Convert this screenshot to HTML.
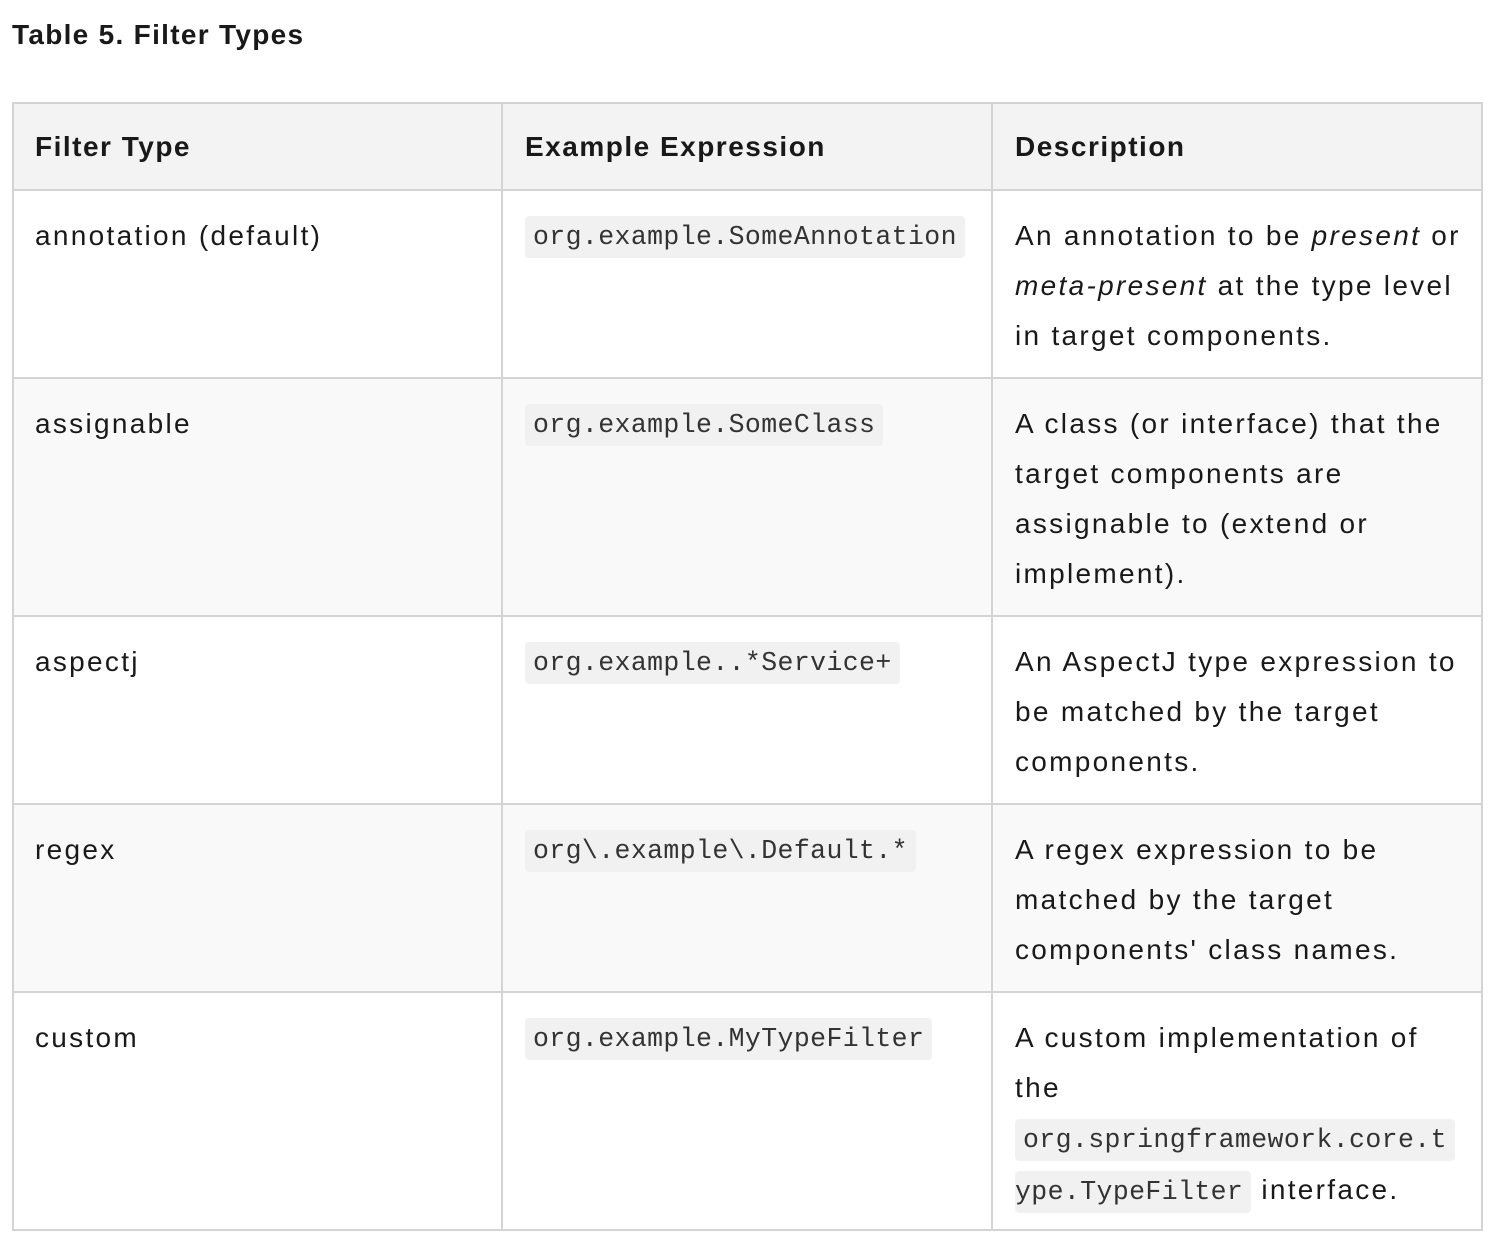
<!DOCTYPE html>
<html><head><meta charset="utf-8"><style>
body{margin:0;background:#fff;width:1496px;height:1250px;position:relative;font-family:"Liberation Sans",sans-serif;color:#191919;}
.title{position:absolute;left:12px;top:19px;font-size:28px;font-weight:bold;letter-spacing:1.3px;}
.cell{position:absolute;box-sizing:border-box;padding:21px 22px 0 22px;font-size:28px;line-height:50px;white-space:nowrap;letter-spacing:2.3px;}
.line{position:absolute;background:#d4d4d4;}
code{font-family:"Liberation Mono",monospace;font-size:26.5px;background:#f1f1f1;padding:6px 8px;border-radius:4px;color:#333;letter-spacing:0.4px;}
.h{font-weight:bold;letter-spacing:1.5px;}
</style></head><body>
<div class="title">Table 5. Filter Types</div>
<div style="position:absolute;left:12px;top:102px;width:1471px;height:88px;background:#f3f3f3"></div>
<div style="position:absolute;left:12px;top:378px;width:1471px;height:238px;background:#f9f9f9"></div>
<div style="position:absolute;left:12px;top:804px;width:1471px;height:188px;background:#f9f9f9"></div>
<div class="line" style="left:12px;top:102px;width:1471px;height:2px"></div>
<div class="line" style="left:12px;top:189px;width:1471px;height:2px"></div>
<div class="line" style="left:12px;top:377px;width:1471px;height:2px"></div>
<div class="line" style="left:12px;top:615px;width:1471px;height:2px"></div>
<div class="line" style="left:12px;top:803px;width:1471px;height:2px"></div>
<div class="line" style="left:12px;top:991px;width:1471px;height:2px"></div>
<div class="line" style="left:12px;top:1229px;width:1471px;height:2px"></div>
<div class="line" style="left:12px;top:102px;width:2px;height:1129px"></div>
<div class="line" style="left:501px;top:102px;width:2px;height:1129px"></div>
<div class="line" style="left:991px;top:102px;width:2px;height:1129px"></div>
<div class="line" style="left:1481px;top:102px;width:2px;height:1129px"></div>

<div class="cell h" style="left:13px;top:101px;">Filter Type</div>
<div class="cell h" style="left:503px;top:101px;">Example Expression</div>
<div class="cell h" style="left:993px;top:101px;">Description</div>

<div class="cell" style="left:13px;top:190px">annotation (default)</div>
<div class="cell" style="left:503px;top:189px"><code>org.example.SomeAnnotation</code></div>
<div class="cell" style="left:993px;top:190px">An annotation to be <i>present</i> or<br><i>meta-present</i> at the type level<br>in target components.</div>

<div class="cell" style="left:13px;top:378px">assignable</div>
<div class="cell" style="left:503px;top:377px"><code>org.example.SomeClass</code></div>
<div class="cell" style="left:993px;top:378px">A class (or interface) that the<br>target components are<br>assignable to (extend or<br>implement).</div>

<div class="cell" style="left:13px;top:616px">aspectj</div>
<div class="cell" style="left:503px;top:615px"><code>org.example..*Service+</code></div>
<div class="cell" style="left:993px;top:616px">An AspectJ type expression to<br>be matched by the target<br>components.</div>

<div class="cell" style="left:13px;top:804px">regex</div>
<div class="cell" style="left:503px;top:803px"><code>org\.example\.Default.*</code></div>
<div class="cell" style="left:993px;top:804px">A regex expression to be<br>matched by the target<br>components' class names.</div>

<div class="cell" style="left:13px;top:992px">custom</div>
<div class="cell" style="left:503px;top:991px"><code>org.example.MyTypeFilter</code></div>
<div class="cell" style="left:993px;top:992px">A custom implementation of<br>the<br><code>org.springframework.core.t</code><br><code style="padding-left:0">ype.TypeFilter</code> interface.</div>
</body></html>
